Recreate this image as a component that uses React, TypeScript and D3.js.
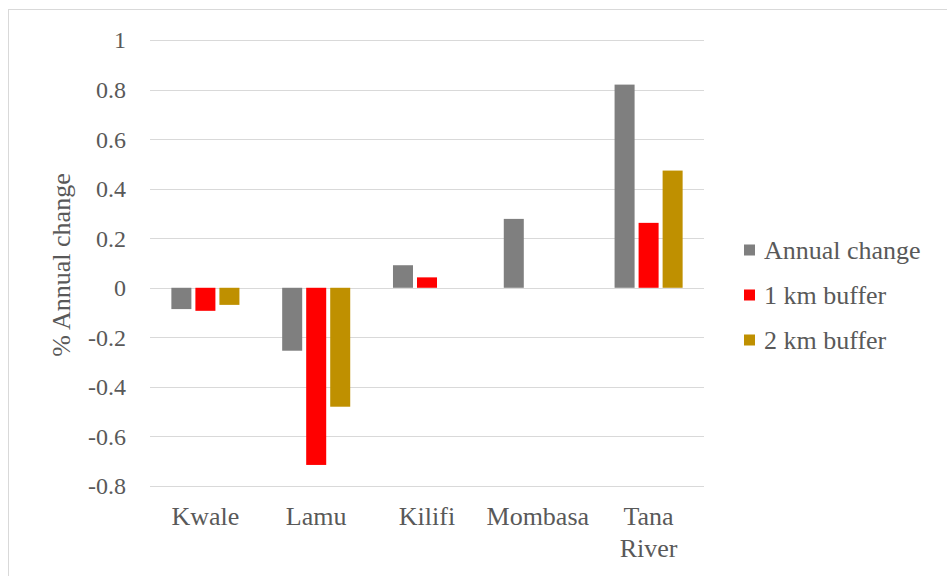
import React from "react";
import * as d3 from "d3";

const categories = ["Kwale", "Lamu", "Kilifi", "Mombasa", "Tana River"];
const seriesNames = ["Annual change", "1 km buffer", "2 km buffer"];
const seriesColors = ["#7f7f7f", "#ff0000", "#bf9000"];
const annualChange = [-0.086, -0.254, 0.091, 0.278, 0.82];
const buffer1km = [-0.093, -0.715, 0.042, 0, 0.262];
const buffer2km = [-0.069, -0.48, 0, 0, 0.473];
const yTicks = [1, 0.8, 0.6, 0.4, 0.2, 0, -0.2, -0.4, -0.6, -0.8];

const W = 947;
const H = 576;
const plot = { left: 150, right: 704, top: 40, bottom: 486 };
const FONT = "Liberation Serif, Tinos, DejaVu Serif, serif";
const GREY_TEXT = "#595959";

export default function App() {
  const series = [annualChange, buffer1km, buffer2km];
  const x = d3.scaleBand<string>().domain(categories).range([plot.left, plot.right]);
  const y = d3.scaleLinear().domain([-0.8, 1]).range([plot.bottom, plot.top]);
  const inner = d3
    .scaleBand<number>()
    .domain([0, 1, 2])
    .range([0, x.bandwidth()])
    .paddingInner(1 / 6)
    .paddingOuter(0.89);

  return (
    <svg
      width={W}
      height={H}
      style={{ position: "absolute", left: 0, top: 0, background: "#fff" }}
      fontFamily={FONT}
      fill={GREY_TEXT}
    >
      <rect x={8.5} y={9.5} width={W} height={H} fill="#fff" stroke="#d9d9d9" />
      {yTicks.map((t) => (
        <g key={t}>
          <line
            x1={plot.left}
            x2={plot.right}
            y1={Math.round(y(t)) + 0.5}
            y2={Math.round(y(t)) + 0.5}
            stroke="#d9d9d9"
          />
          <text x={126} y={y(t)} dy="0.35em" textAnchor="end" fontSize={24}>
            {d3.format("")(t).replace("−", "-")}
          </text>
        </g>
      ))}
      {series.map((vals, si) =>
        vals.map((v, ci) =>
          v === 0 ? null : (
            <rect
              key={`${si}-${ci}`}
              x={(x(categories[ci]) ?? 0) + (inner(si) ?? 0)}
              width={inner.bandwidth()}
              y={Math.min(y(v), y(0))}
              height={Math.abs(y(v) - y(0))}
              fill={seriesColors[si]}
            />
          )
        )
      )}
      {categories.map((c) => {
        const cx = (x(c) ?? 0) + x.bandwidth() / 2;
        const parts = c === "Tana River" ? ["Tana", "River"] : [c];
        return (
          <text key={c} x={cx} y={525} textAnchor="middle" fontSize={26}>
            {parts.map((p, i) => (
              <tspan key={p} x={cx} dy={i === 0 ? 0 : 32}>
                {p}
              </tspan>
            ))}
          </text>
        );
      })}
      <text
        transform={`translate(70, ${(plot.top + plot.bottom) / 2 + 2}) rotate(-90)`}
        textAnchor="middle"
        fontSize={26}
      >
        % Annual change
      </text>
      {seriesNames.map((n, i) => (
        <g key={n} transform={`translate(744, ${250 + i * 45})`}>
          <rect x={0} y={-5.5} width={11} height={11} fill={seriesColors[i]} />
          <text x={20} y={0} dy="0.35em" fontSize={26}>
            {n}
          </text>
        </g>
      ))}
    </svg>
  );
}
